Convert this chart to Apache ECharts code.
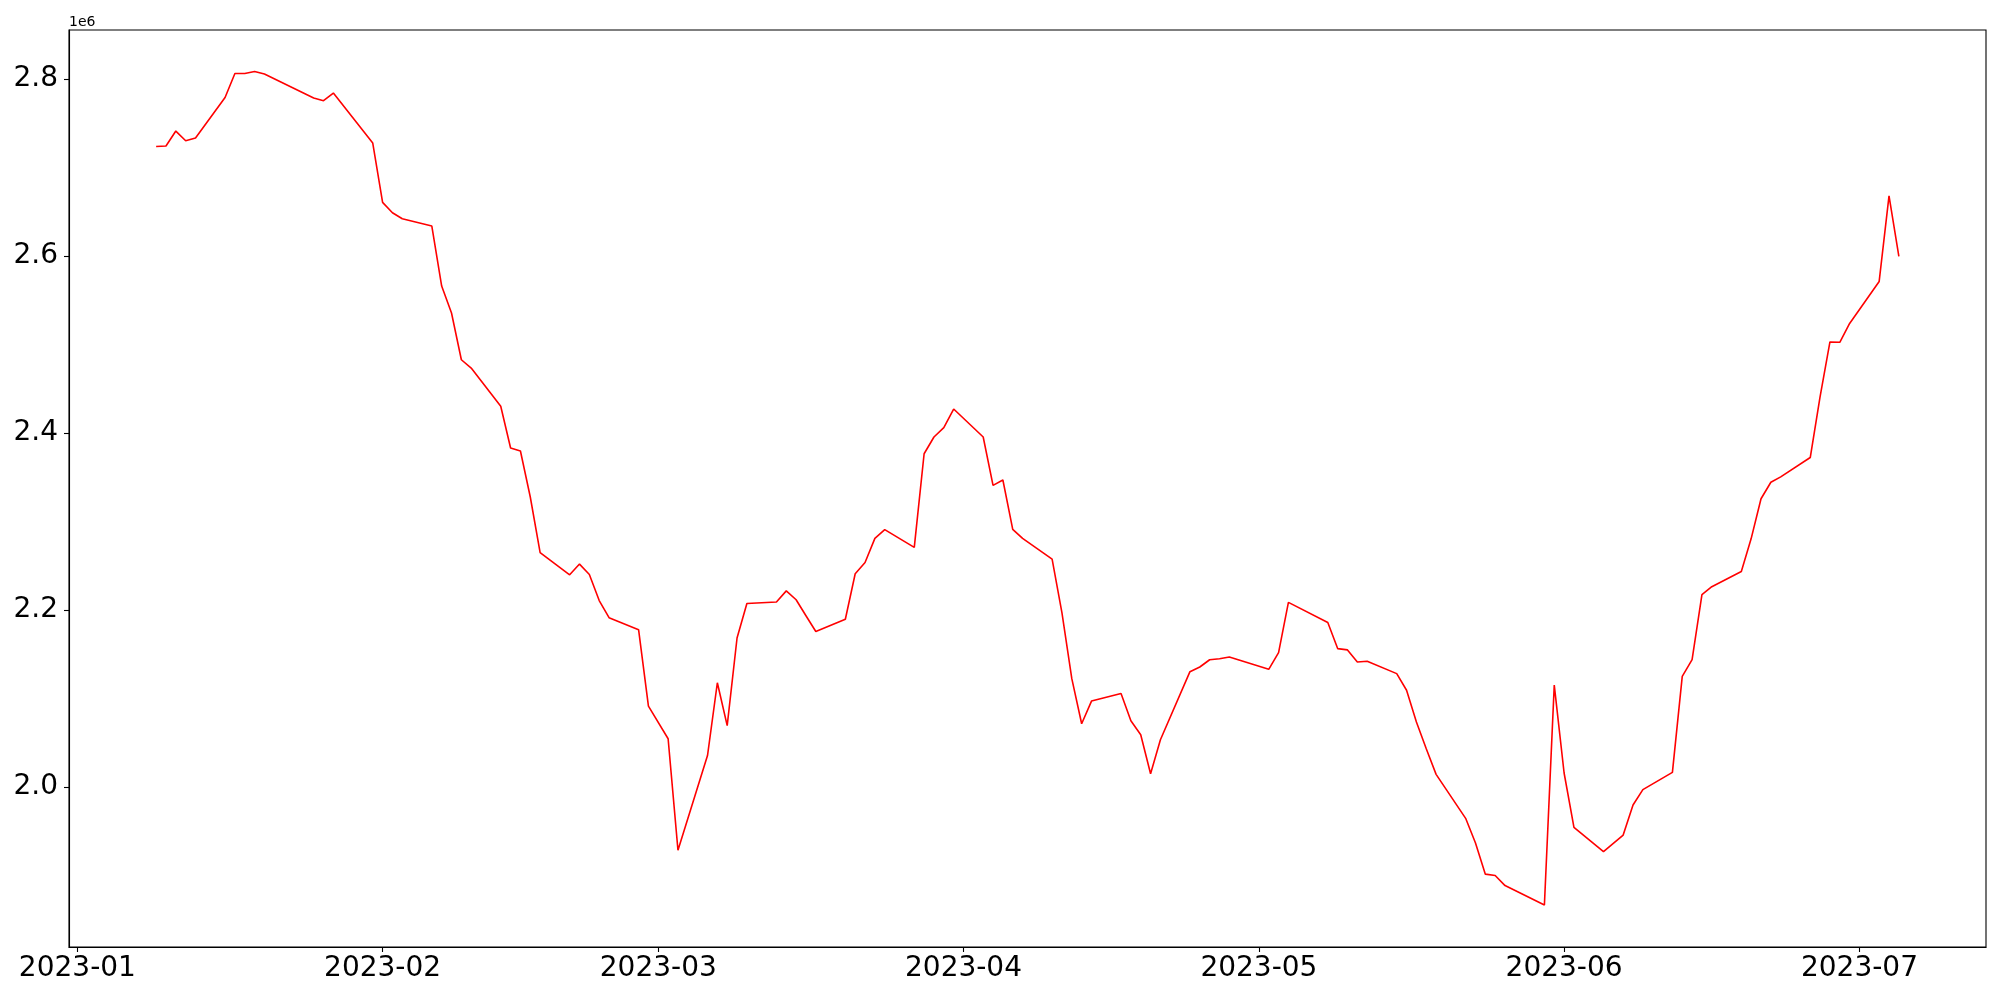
<!DOCTYPE html>
<html>
<head>
<meta charset="utf-8">
<script src="https://cdn.jsdelivr.net/npm/echarts@6/dist/echarts.min.js"></script>
<style>
  html, body { margin: 0; padding: 0; background: #fff; }
  #main { width: 2000px; height: 1000px; }
</style>
</head>
<body>
<div id="main"></div>
<script>
// trading days and values (x1e6)
var dates = [
  '2023-01-09','2023-01-10','2023-01-11','2023-01-12','2023-01-13','2023-01-16','2023-01-17','2023-01-18',
  '2023-01-19','2023-01-20','2023-01-25','2023-01-26','2023-01-27','2023-01-31','2023-02-01','2023-02-02',
  '2023-02-03','2023-02-06','2023-02-07','2023-02-08','2023-02-09','2023-02-10','2023-02-13','2023-02-14',
  '2023-02-15','2023-02-16','2023-02-17','2023-02-20','2023-02-21','2023-02-22','2023-02-23','2023-02-24',
  '2023-02-27','2023-02-28','2023-03-02','2023-03-03','2023-03-06','2023-03-07','2023-03-08','2023-03-09',
  '2023-03-10','2023-03-13','2023-03-14','2023-03-15','2023-03-16','2023-03-17','2023-03-20','2023-03-21',
  '2023-03-22','2023-03-23','2023-03-24','2023-03-27','2023-03-28','2023-03-29','2023-03-30','2023-03-31',
  '2023-04-03','2023-04-04','2023-04-05','2023-04-06','2023-04-07','2023-04-10','2023-04-11','2023-04-12',
  '2023-04-13','2023-04-14','2023-04-17','2023-04-18','2023-04-19','2023-04-20','2023-04-21','2023-04-24',
  '2023-04-25','2023-04-26','2023-04-27','2023-04-28','2023-05-02','2023-05-03','2023-05-04','2023-05-08',
  '2023-05-09','2023-05-10','2023-05-11','2023-05-12','2023-05-15','2023-05-16','2023-05-17','2023-05-18',
  '2023-05-19','2023-05-22','2023-05-23','2023-05-24','2023-05-25','2023-05-26','2023-05-30','2023-05-31',
  '2023-06-01','2023-06-02','2023-06-05','2023-06-07','2023-06-08','2023-06-09','2023-06-12','2023-06-13',
  '2023-06-14','2023-06-15','2023-06-16','2023-06-19','2023-06-20','2023-06-21','2023-06-22','2023-06-23',
  '2023-06-26','2023-06-27','2023-06-28','2023-06-29','2023-06-30','2023-07-03','2023-07-04','2023-07-05'
];
var values = [
  2.7238,2.7243,2.7412,2.7303,2.7333,2.7792,2.8063,2.8063,
  2.8086,2.8056,2.7785,2.7755,2.7842,2.7277,2.6606,2.6489,
  2.6421,2.6339,2.5661,2.5356,2.4828,2.4734,2.4303,2.3831,
  2.3797,2.3277,2.2649,2.2398,2.2519,2.2402,2.2107,2.1913,
  2.1778,2.0913,2.0545,1.9285,2.0355,2.1178,2.0693,2.1684,
  2.2073,2.2090,2.2216,2.2116,2.1935,2.1757,2.1896,2.2410,
  2.2537,2.2809,2.2908,2.2707,2.3766,2.3955,2.4060,2.4271,
  2.3955,2.3408,2.3469,2.2911,2.2809,2.2576,2.1967,2.1224,
  2.0715,2.0971,2.1057,2.0749,2.0590,2.0150,2.0534,2.1303,
  2.1356,2.1438,2.1450,2.1469,2.1330,2.1519,2.2086,2.1858,
  2.1564,2.1549,2.1413,2.1421,2.1281,2.1093,2.0735,2.0433,
  2.0143,1.9646,1.9367,1.9015,1.9000,1.8886,1.8667,2.1152,
  2.0158,1.9543,1.9269,1.9457,1.9797,1.9970,2.0165,2.1250,
  2.1440,2.2174,2.2263,2.2435,2.2807,2.3257,2.3444,2.3504,
  2.3723,2.4411,2.5029,2.5025,2.5238,2.5713,2.6680,2.5997
];
var monthTicks = ['2023-01-01','2023-02-01','2023-03-01','2023-04-01','2023-05-01','2023-06-01','2023-07-01'];
var yTicks = [2.0, 2.2, 2.4, 2.6, 2.8];

function ts(s){ return +new Date(s + 'T00:00:00'); }

var seriesData = [];
for (let i = 0; i < dates.length; i++) {
  seriesData.push([ts(dates[i]), values[i] * 1e6]);
}
// matplotlib style 5% margins
var t0 = ts(dates[0]), t1 = ts(dates[dates.length - 1]);
var pad = (t1 - t0) * 0.05;

var myChart = echarts.init(document.getElementById('main'));
var option = {
  backgroundColor: '#fff',
  animation: false,
  textStyle: { fontFamily: 'DejaVu Sans' },
  grid: {
    left: 69, right: 14, top: 30, bottom: 53,
    show: true, borderColor: '#000', borderWidth: 1.1
  },
  graphic: [{
    type: 'text', left: 69, top: 15,
    style: { text: '1e6', fontSize: 14, fontFamily: 'DejaVu Sans', fill: '#000' }
  }],
  xAxis: {
    // plain value axis holding timestamps, labels at month starts
    type: 'value',
    min: t0 - pad,
    max: t1 + pad,
    scale: true,
    splitLine: { show: false },
    axisLine: { show: true, onZero: false, lineStyle: { color: '#000', width: 1.1 } },
    axisTick: { show: true, length: 5, lineStyle: { color: '#000', width: 1.1 },
      customValues: monthTicks.map(ts) },
    axisLabel: {
      color: '#000', fontSize: 28, margin: 8, fontFamily: 'DejaVu Sans',
      showMinLabel: true, showMaxLabel: true, hideOverlap: false,
      customValues: monthTicks.map(ts),
      formatter: function (v) {
        var d = new Date(v);
        var m = d.getMonth() + 1;
        return d.getFullYear() + '-' + (m < 10 ? '0' + m : m);
      }
    }
  },
  yAxis: {
    type: 'value',
    min: 1819200,
    max: 2855400,
    scale: true,
    splitLine: { show: false },
    axisLine: { show: true, onZero: false, lineStyle: { color: '#000', width: 1.1 } },
    axisTick: { show: true, length: 5, lineStyle: { color: '#000', width: 1.1 },
      customValues: yTicks.map(function (v) { return v * 1e6; }) },
    axisLabel: {
      color: '#000', fontSize: 28, margin: 11, fontFamily: 'DejaVu Sans',
      customValues: yTicks.map(function (v) { return v * 1e6; }),
      formatter: function (v) { return (v / 1e6).toFixed(1); }
    }
  },
  series: [{
    type: 'line',
    data: seriesData,
    showSymbol: false,
    symbol: 'none',
    lineStyle: { color: '#ff0000', width: 1.6 },
    itemStyle: { color: '#ff0000' }
  }]
};
myChart.setOption(option);
</script>
</body>
</html>
